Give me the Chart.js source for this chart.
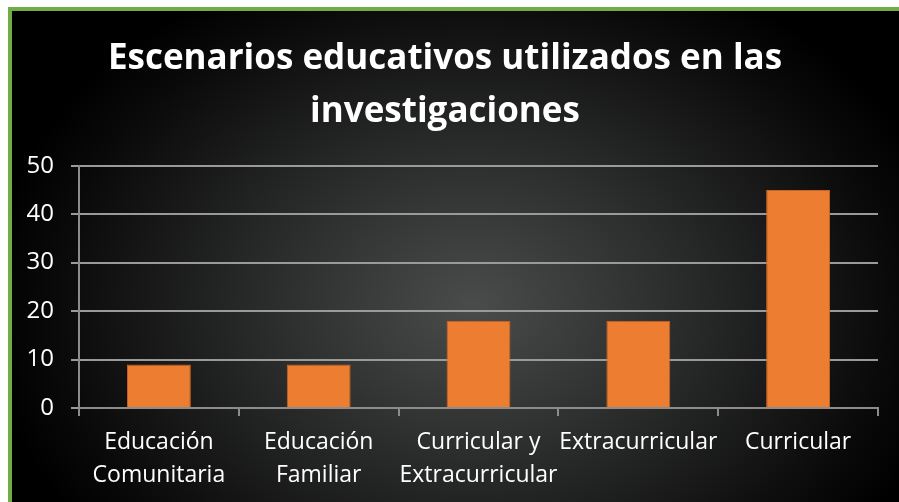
<!DOCTYPE html>
<html>
<head>
<meta charset="utf-8">
<script src="https://cdn.jsdelivr.net/npm/chart.js@4"></script>
<style>
  html, body { margin: 0; padding: 0; background: #fff; }
  #marco {
    position: absolute; left: 8px; top: 7px;
    width: 887px; height: 491px;
    border-left: 4px solid #70ad47; border-top: 4px solid #70ad47;
    background: radial-gradient(ellipse 55% 75% at 52% 60%, #4a4b4b 0%, #303131 35%, #0a0a0a 85%, #000 100%);
  }
  canvas { display: block; }
</style>
</head>
<body>
<div id="marco"><canvas id="graf" width="887" height="491"></canvas></div>
<script>
// Datos
const categorias = [
  ["Educación", "Comunitaria"],
  ["Educación", "Familiar"],
  ["Curricular y", "Extracurricular"],
  "Extracurricular",
  "Curricular"
];
const valores = [9, 9, 18, 18, 45];
const tituloLineas = ["Escenarios educativos utilizados en las", "investigaciones"];

document.addEventListener("DOMContentLoaded", () => {
  new Chart(document.getElementById("graf"), {
    type: "bar",
    data: {
      labels: categorias,
      datasets: [{
        data: valores,
        backgroundColor: "#ed7d31",
        borderColor: "#c8641f",
        borderWidth: 1,
        categoryPercentage: 1,
        barPercentage: 0.4
      }]
    },
    options: {
      responsive: false,
      animation: false,
      layout: { padding: { left: 0, right: 21, top: 0, bottom: 0 } },
      plugins: {
        legend: { display: false },
        tooltip: { enabled: false },
        title: {
          display: true,
          text: tituloLineas,
          color: "#ffffff",
          font: { family: "Open Sans", size: 35, weight: "bold", lineHeight: 1.51 },
          padding: { top: 22, bottom: 27 }
        }
      },
      scales: {
        x: {
          afterFit: s => { s.height = 94; },
          grid: { display: true, drawOnChartArea: false, offset: true, color: "#8c8c8c", lineWidth: 2, tickLength: 8 },
          border: { color: "#8c8c8c", width: 2 },
          ticks: { color: "#ffffff", padding: 10, maxRotation: 0, autoSkip: false,
                   font: { family: "Open Sans", size: 23, lineHeight: 1.43 } }
        },
        y: {
          min: 0, max: 50,
          afterFit: s => { s.width = 67; },
          grid: { color: "#9a9a9a", lineWidth: 2, tickLength: 8 },
          border: { color: "#8c8c8c", width: 2 },
          ticks: { stepSize: 10, color: "#ffffff", padding: 17,
                   font: { family: "Open Sans", size: 24 } }
        }
      }
    }
  });
});
</script>
</body>
</html>
